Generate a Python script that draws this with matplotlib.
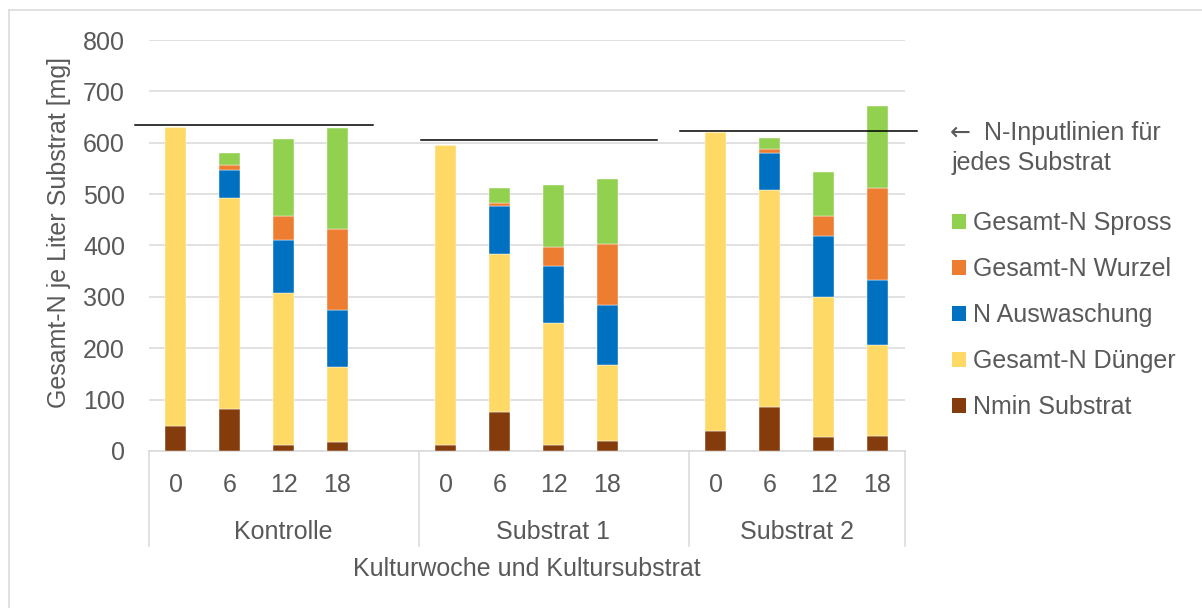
import matplotlib.pyplot as plt
from matplotlib.patches import Patch
from matplotlib.lines import Line2D

plt.rcParams['font.family'] = ['Liberation Sans', 'DejaVu Sans']

weeks = ['0', '6', '12', '18']
groups = ['Kontrolle', 'Substrat 1', 'Substrat 2']

# mg N per litre substrate, per group: weeks 0, 6, 12, 18
nmin = [[48, 81, 11, 17], [12, 75, 12, 19], [38, 86, 28, 30]]
duenger = [[583, 411, 296, 147], [583, 308, 238, 149], [582, 422, 272, 177]]
auswaschung = [[0, 55, 104, 111], [0, 94, 111, 117], [0, 73, 119, 126]]
wurzel = [[0, 9, 47, 158], [0, 6, 37, 118], [0, 6, 39, 179]]
spross = [[0, 25, 150, 196], [0, 28, 119, 127], [0, 22, 85, 159]]

# N input per substrate (hand drawn lines), x range in bar slots
input_n = [634.5, 605, 623.5]
input_x0 = [-0.75, 4.54, 9.34]
input_x1 = [3.65, 8.92, 13.73]

series = [('Nmin Substrat', nmin, '#843C0C'),
          ('Gesamt-N Dünger', duenger, '#FFD966'),
          ('N Auswaschung', auswaschung, '#0070C0'),
          ('Gesamt-N Wurzel', wurzel, '#ED7D31'),
          ('Gesamt-N Spross', spross, '#92D050')]

grey = '#595959'
slots = len(weeks) + 1

fig = plt.figure(figsize=(12.02, 6.08), dpi=100)
ax = fig.add_axes([148.5/1202, 1-451/608, 756/1202, 411/608])

pos = []
for g in range(len(groups)):
    for i in range(len(weeks)):
        pos.append(g*slots + i)

bottom = [0]*len(pos)
for name, vals, col in series:
    flat = [v for row in vals for v in row]
    ax.bar(pos, flat, 0.39, bottom=bottom, color=col, edgecolor='white',
           linewidth=0.3, zorder=3)
    bottom = [b + v for b, v in zip(bottom, flat)]

for n, x0, x1 in zip(input_n, input_x0, input_x1):
    ax.plot([x0, x1], [n, n], color='black', lw=1.1, clip_on=False, zorder=4)

ax.set_xlim(-0.5, pos[-1] + 0.5)
ax.set_ylim(0, 800)
ax.set_yticks(range(0, 801, 100))
ax.yaxis.grid(True, color='#d9d9d9', lw=1.1, zorder=0)
for s in ['top', 'right', 'left']:
    ax.spines[s].set_visible(False)
ax.spines['bottom'].set_color('#d9d9d9')
ax.spines['bottom'].set_linewidth(1.1)
ax.tick_params(axis='y', length=0, pad=17, labelsize=18, labelcolor=grey)
ax.set_xticks(pos)
ax.set_xticklabels(weeks*len(groups))
ax.tick_params(axis='x', length=0, pad=16, labelsize=18, labelcolor=grey)

tr = ax.get_xaxis_transform()
edges = [g*slots - 0.5 for g in range(len(groups))] + [pos[-1] + 0.5]
for e in edges:
    ax.plot([e, e], [0, -0.231], color='#d9d9d9', lw=1.1, transform=tr,
            clip_on=False)
for g, name in enumerate(groups):
    ax.text((edges[g] + edges[g+1])/2, -0.197, name, transform=tr,
            ha='center', va='center', fontsize=18, color=grey)

ax.text(0.5, -0.287, 'Kulturwoche und Kultursubstrat', transform=ax.transAxes,
        ha='center', va='center', fontsize=18, color=grey)
fig.text(59/1202, 1-232/608, 'Gesamt-N je Liter Substrat [mg]', rotation=90,
         ha='center', va='center', fontsize=18, color=grey)

handles = [Patch(facecolor=col, label=name) for name, vals, col in series[::-1]]
fig.legend(handles=handles, loc='upper left', bbox_to_anchor=(942/1202, 1-201/608),
           frameon=False, fontsize=18, labelcolor=grey, handlelength=0.55,
           handleheight=0.55, handletextpad=0.3, labelspacing=0.88,
           borderaxespad=0)
# note on the input lines, arrow drawn in DejaVu for a heavier glyph
fig.text(950/1202, 1-133/608, '←', family='DejaVu Sans', fontsize=18,
         color=grey, ha='left', va='center')
fig.text(984/1202, 1-133/608, 'N-Inputlinien für', fontsize=18,
         color=grey, ha='left', va='center')
fig.text(952/1202, 1-163/608, 'jedes Substrat', fontsize=18,
         color=grey, ha='left', va='center')

# outer chart frame (top and left visible)
fig.add_artist(Line2D([9/1202, 9/1202], [0, 1-10/608], color='#d9d9d9', lw=1.1))
fig.add_artist(Line2D([9/1202, 1], [1-10/608, 1-10/608], color='#d9d9d9', lw=1.1))

fig.savefig('out.png', dpi=100)
